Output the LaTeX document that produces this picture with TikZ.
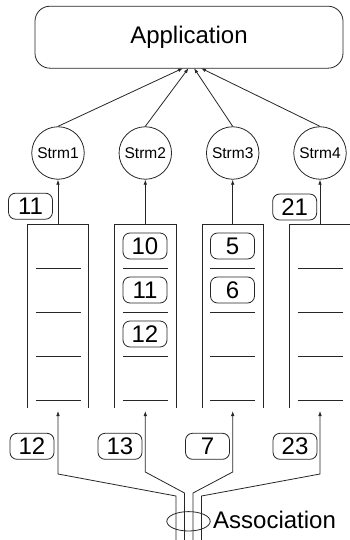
\documentclass[tikz,border=0pt]{standalone}
\usepackage{fontspec}
\setmainfont{Liberation Sans}
\usetikzlibrary{arrows.meta,shapes.geometric}
\begin{document}
\begin{tikzpicture}[x=1pt,y=-1pt,
  ln/.style={draw=black!85, line width=0.8pt},
  arr/.style={ln, -{Latex[length=5pt,width=3.6pt]}},
  numbox/.style={draw=black!85, line width=0.8pt, rounded corners=7pt, minimum width=44pt, minimum height=26pt, inner sep=0pt, text=black, font=\fontsize{24}{24}\selectfont},
  strm/.style={circle, draw=black!85, line width=0.8pt, minimum size=52.5pt, inner sep=0pt, text=black, font=\fontsize{15.5}{15.5}\selectfont},
  divider/.style={ln},
]
\useasboundingbox (0,0) rectangle (350,540);

% Application
\node[draw=black!85, line width=0.8pt, rounded corners=15pt, minimum width=308pt, minimum height=62pt, inner sep=0pt, text=black, font=\fontsize{24}{24}\selectfont] (app) at (189,37.2) {Application};

% streams
\node[strm] (s1) at (58,153) {Strm1};
\node[strm] (s2) at (145.3,153) {Strm2};
\node[strm] (s3) at (232.7,153) {Strm3};
\node[strm] (s4) at (320,153) {Strm4};

\coordinate (a1) at (183,68.2);
\coordinate (a2) at (188.5,68.2);
\coordinate (a3) at (194,68.2);
\coordinate (a4) at (201,68.2);
\draw[arr] (s1.north) -- (a1);
\draw[arr] (s2.north) -- (a2);
\draw[arr] (s3.north) -- (a3);
\draw[arr] (s4.north) -- (a4);

% queues
\foreach \c/\n in {58/1,145.3/2,232.7/3,320/4}{
  \draw[ln] (\c-30.8,408) -- (\c-30.8,224.3) -- (\c+30.8,224.3) -- (\c+30.8,408);
  \coordinate (q\n) at (\c,224.3);
  \coordinate (t\n) at (\c,411);
  \foreach \y in {268.3,312.3,356,400}{
    \draw[divider] (\c-22.5,\y) -- (\c+22.5,\y);
  }
}
\draw[arr] (q1) -- (s1.south);
\draw[arr] (q2) -- (s2.south);
\draw[arr] (q3) -- (s3.south);
\draw[arr] (q4) -- (s4.south);

% numbers inside queues
\node[numbox] (n10) at (145,246) {10};
\node[numbox] (n11) at (145,290) {11};
\node[numbox] (n12) at (145,334) {12};
\node[numbox] (n5) at (232.5,246) {5};
\node[numbox] (n6) at (232.5,290) {6};

% numbers outside
\node[numbox] (o11) at (30.5,206.2) {11};
\node[numbox] (o21) at (294.7,207) {21};
\node[numbox] (b12) at (32,446.3) {12};
\node[numbox] (b13) at (120,446.3) {13};
\node[numbox] (b7) at (207.5,446.3) {7};
\node[numbox] (b23) at (295,446.3) {23};

% association lines
\coordinate (e1) at (176,540);
\coordinate (e2) at (184.5,540);
\coordinate (e3) at (193,540);
\coordinate (e4) at (201.5,540);
\draw[arr] (e1) -- (176,496) -- (58,474) -- (t1);
\draw[arr] (e2) -- (184.5,493) -- (145.3,472) -- (t2);
\draw[arr] (e3) -- (193,493) -- (232.7,472) -- (t3);
\draw[arr] (e4) -- (201.5,496) -- (320,474) -- (t4);

\node[ellipse, draw=black!85, line width=0.8pt, minimum width=43.4pt, minimum height=19.4pt, inner sep=0pt] (ring) at (188.5,521.3) {};
\node[anchor=base west, inner sep=0pt, text=black, font=\fontsize{24}{24}\selectfont] (assoc) at (213,528.3) {Association};
\end{tikzpicture}
\end{document}
